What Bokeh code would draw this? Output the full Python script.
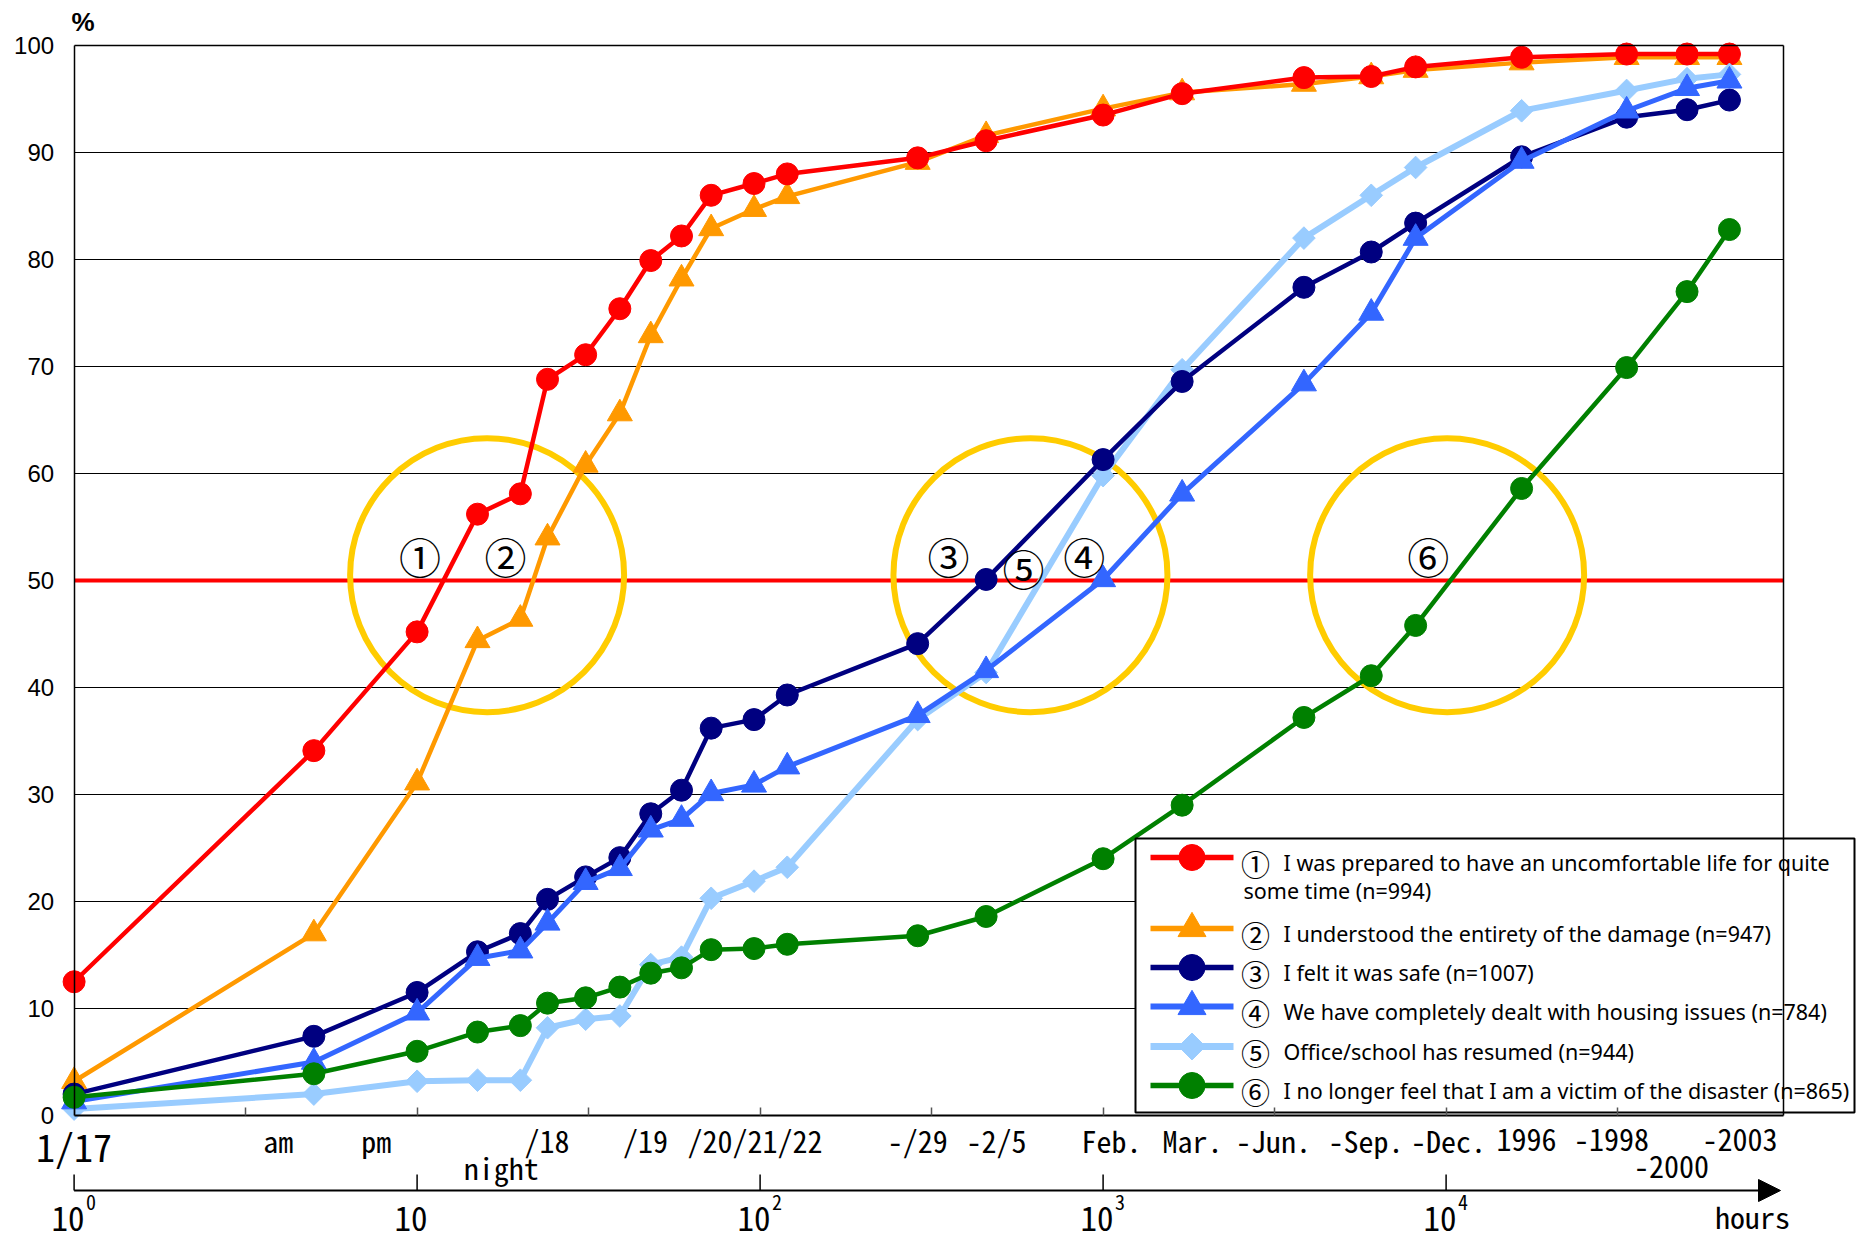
import numpy as np
from bokeh.plotting import figure
from bokeh.models import (Range1d, LinearAxis, LogAxis, FixedTicker, Grid, Label, Arrow,
                          NormalHead, ColumnDataSource, CustomJSTickFormatter)
from bokeh.embed import file_html
from bokeh.resources import INLINE
from bokeh.core.properties import value

# ---------------- data ----------------
hours = [1, 5, 10, 15, 20, 24, 31, 39, 48, 59, 72, 96, 120, 288, 456,
         1000, 1700, 3850, 6050, 8150, 16600, 33600, 50400, 67000]

s1 = [12.5, 34.1, 45.2, 56.2, 58.1, 68.8, 71.1, 75.4, 79.9, 82.2, 86.0, 87.1, 88.0, 89.5, 91.1,
      93.5, 95.5, 97.0, 97.1, 98.0, 98.9, 99.2, 99.2, 99.2]
s2 = [3.2, 17.0, 31.1, 44.4, 46.4, 54.0, 60.8, 65.6, 72.9, 78.2, 82.9, 84.7, 85.9, 89.1, 91.6,
      94.1, 95.6, 96.4, 97.1, 97.7, 98.4, 98.9, 98.9, 98.9]
s3 = [2.0, 7.4, 11.5, 15.3, 17.0, 20.2, 22.3, 24.1, 28.2, 30.4, 36.2, 37.0, 39.3, 44.1, 50.1,
      61.3, 68.6, 77.4, 80.7, 83.4, 89.6, 93.3, 94.0, 94.9]
s4 = [1.3, 5.0, 9.6, 14.7, 15.4, 18.0, 21.8, 23.1, 26.7, 27.7, 30.1, 30.9, 32.6, 37.4, 41.6,
      50.1, 58.1, 68.4, 75.0, 82.0, 89.2, 93.9, 96.0, 96.7]
s5 = [0.6, 2.0, 3.2, 3.3, 3.3, 8.2, 9.0, 9.3, 14.1, 14.8, 20.3, 21.9, 23.2, 37.0, 41.4,
      59.8, 69.7, 82.0, 86.0, 88.6, 93.9, 95.8, 96.9, 97.3]
s6 = [1.7, 3.9, 6.0, 7.8, 8.4, 10.5, 11.0, 12.0, 13.3, 13.8, 15.5, 15.6, 16.0, 16.8, 18.6,
      24.0, 29.0, 37.2, 41.1, 45.8, 58.6, 69.9, 77.0, 82.8]

series_numbers = ["①", "②", "③", "④", "⑤", "⑥"]
series_labels = [
    ["I was prepared to have an uncomfortable life for quite", "some time (n=994)"],
    ["I understood the entirety of the damage (n=947)"],
    ["I felt it was safe (n=1007)"],
    ["We have completely dealt with housing issues (n=784)"],
    ["Office/school has resumed (n=944)"],
    ["I no longer feel that I am a victim of the disaster (n=865)"],
]

y_ticks = [0, 10, 20, 30, 40, 50, 60, 70, 80, 90, 100]
threshold = 50

date_labels = ["1/17", "am", "pm", "/18", "/19", "/20/21/22", "-/29", "-2/5", "Feb.", "Mar.",
               "-Jun.", "-Sep.", "-Dec.", "1996", "-1998", "-2003"]
date_label_hours = [1, 3.94, 7.6, 23.9, 46.3, 96.6, 288, 489, 1058, 1823,
                    3140, 5840, 10160, 17150, 30350, 71900]
lower_labels = ["night", "-2000"]
lower_label_hours = [17.6, 45400]

decades = [1, 10, 100, 1000, 10000]
decade_exps = ["0", "", "2", "3", "4"]

ring_hours = [16.0, 614, 10070]
ring_pct = [50.5, 50.5, 50.5]
mark_text = ["①", "②", "③", "⑤", "④", "⑥"]
mark_hours = [10.2, 18.1, 354, 586, 881, 8870]
mark_pct = [52.3, 52.3, 52.3, 51.2, 52.3, 52.3]

# ---------------- layout (page pixels) ----------------
W, H = 1858, 1240
PX0, PY0 = 73.6, 1115.0      # pixel position of (1 h, 0 %)
PPD = 343.0                  # pixels per decade of hours
PPU = 10.7                   # pixels per percentage point
CHART_RIGHT = 1782.7
LBL_SHIFT = 14               # baseline correction for Label text


def xd(px):
    return 10 ** ((px - PX0) / PPD)


def yd(py):
    return (PY0 - py) / PPU


x_start = hours[0]
x_end = xd(CHART_RIGHT)

p = figure(width=W, height=H, x_axis_type="log",
           x_range=Range1d(xd(0), xd(W)), y_range=Range1d(yd(H), yd(0)),
           x_axis_location=None, y_axis_location=None,
           output_backend="svg", toolbar_location=None,
           min_border_left=0, min_border_right=0, min_border_top=0, min_border_bottom=0)
p.outline_line_color = None
p.grid.visible = False
p.background_fill_color = "white"
p.border_fill_color = "white"

blank = CustomJSTickFormatter(code="return ''")

# left y axis at x = 1 h
yaxis = LinearAxis(fixed_location=x_start, bounds=(0, 100), ticker=FixedTicker(ticks=y_ticks),
                   major_tick_in=0, major_tick_out=0, minor_tick_in=0, minor_tick_out=0,
                   major_label_standoff=20, major_label_text_font="Liberation Sans",
                   major_label_text_font_size="24px", major_label_text_color="black",
                   axis_line_color="black", axis_line_width=1.5)
p.add_layout(yaxis, "left")

# bottom x axis with half-decade inward ticks
half_decades = [10 ** (k / 2) for k in range(10)]
xaxis = LogAxis(fixed_location=0, bounds=(x_start, x_end), ticker=FixedTicker(ticks=half_decades),
                formatter=blank, major_tick_in=8, major_tick_out=0,
                minor_tick_in=0, minor_tick_out=0,
                major_tick_line_color="#555555", major_tick_line_width=1.5,
                axis_line_color="black", axis_line_width=2)
p.add_layout(xaxis, "below")

# top and right frame lines
top_axis = LogAxis(fixed_location=100, bounds=(x_start, x_end), ticker=FixedTicker(ticks=[]),
                   formatter=blank, major_tick_in=0, major_tick_out=0, minor_tick_in=0,
                   minor_tick_out=0, axis_line_color="black", axis_line_width=1.5)
p.add_layout(top_axis, "above")
right_axis = LinearAxis(fixed_location=x_end, bounds=(0, 100), ticker=FixedTicker(ticks=[]),
                        formatter=blank, major_tick_in=0, major_tick_out=0, minor_tick_in=0,
                        minor_tick_out=0, axis_line_color="black", axis_line_width=1.5)
p.add_layout(right_axis, "right")

# horizontal grid lines
gy = y_ticks[1:-1]
if "cross_bounds" in Grid.properties():
    g = Grid(dimension=1, ticker=FixedTicker(ticks=gy), grid_line_color="black",
             grid_line_width=1, cross_bounds=(x_start, x_end))
    p.add_layout(g)
else:
    p.segment(x0=[x_start] * len(gy), y0=gy, x1=[x_end] * len(gy), y1=gy,
              line_color="black", line_width=1)

# 50% line
p.segment(x0=[x_start], y0=[threshold], x1=[x_end], y1=[threshold], line_color="#FF0000", line_width=4)

# highlight rings
p.scatter(ring_hours, ring_pct, marker="circle", size=274, fill_color=None,
          line_color="#FFCC00", line_width=6)

# series
styles = [
    dict(y=s1, color="#FF0000", marker="circle", size=22, angle=0, lw=4.5, lsize=26),
    dict(y=s2, color="#FF9900", marker="triangle", size=25, angle=0, lw=4.5, lsize=28),
    dict(y=s3, color="#000080", marker="circle", size=22, angle=0, lw=4.5, lsize=26),
    dict(y=s4, color="#3366FF", marker="triangle", size=25, angle=0, lw=5, lsize=28),
    dict(y=s5, color="#99CCFF", marker="square", size=16, angle=np.pi / 4, lw=6, lsize=19),
    dict(y=s6, color="#008000", marker="circle", size=22, angle=0, lw=4.5, lsize=26),
]
draw_order = [1, 0, 4, 2, 3, 5]
for i in draw_order:
    st = styles[i]
    src = ColumnDataSource(dict(x=hours, y=st["y"]))
    p.line("x", "y", source=src, line_color=st["color"], line_width=st["lw"])
    p.scatter("x", "y", source=src, marker=st["marker"], size=st["size"], angle=st["angle"],
              fill_color=st["color"], line_color=st["color"])

# circled numbers
p.text(mark_hours, mark_pct, text=mark_text, text_font=value("Noto Sans CJK JP"),
       text_font_size="42px", text_align="center", text_baseline="middle", text_color="black")

# ---------------- legend (drawn by hand, in chart scales) ----------------
LEG_L, LEG_T, LEG_R, LEG_B = 1135, 838, 1854, 1112
row_py = [857, 928, 967, 1006, 1046, 1085]
p.quad(left=[xd(LEG_L)], right=[xd(LEG_R)], top=[yd(LEG_T)], bottom=[yd(LEG_B)],
       fill_color="white", line_color="black", line_width=2)
leg_font = value("Noto Sans")
for i, st in enumerate(styles):
    ry = row_py[i]
    p.segment(x0=[xd(1150)], y0=[yd(ry)], x1=[xd(1233)], y1=[yd(ry)],
              line_color=st["color"], line_width=st["lw"] + 1)
    p.scatter([xd(1191.5)], [yd(ry)], marker=st["marker"], size=st["lsize"], angle=st["angle"],
              fill_color=st["color"], line_color=st["color"])
    p.text([xd(1255)], [yd(ry + 5)], text=[series_numbers[i]], text_font=value("Noto Sans CJK JP"),
           text_font_size="29px", text_align="center", text_baseline="middle", text_color="black")
    for k, line in enumerate(series_labels[i]):
        lx = 1283 if k == 0 else 1243
        p.text([xd(lx)], [yd(ry + 5 + 28 * k)], text=[line], text_font=leg_font,
               text_font_size="21.5px", text_align="left", text_baseline="middle",
               text_color="black")

# ---------------- bottom date labels ----------------
mono = "Noto Sans Mono CJK JP, Noto Sans CJK JP"
for t, h in zip(date_labels, date_label_hours):
    big = (t == date_labels[0])
    p.add_layout(Label(x=h, y=0, text=t, x_offset=0,
                       y_offset=(-44 if big else -38) + LBL_SHIFT,
                       text_font=mono, text_font_size="38px" if big else "30px",
                       text_align="center", text_baseline="alphabetic", text_color="black"))
for t, h in zip(lower_labels, lower_label_hours):
    p.add_layout(Label(x=h, y=0, text=t, y_offset=-65 + LBL_SHIFT, text_font=mono,
                       text_font_size="30px", text_align="center", text_baseline="alphabetic",
                       text_color="black"))

# ---------------- hours axis (arrow) ----------------
y_arrow = yd(1190)
p.add_layout(Arrow(x_start=x_start, y_start=y_arrow, x_end=xd(1780), y_end=y_arrow,
                   line_color="black", line_width=2,
                   end=NormalHead(size=22, fill_color="black", line_color="black")))
tick_src = ColumnDataSource(dict(x=decades, y0=[y_arrow] * len(decades),
                                 y1=[yd(1174)] * len(decades)))
p.add_layout(Arrow(x_start="x", y_start="y0", x_end="x", y_end="y1", source=tick_src,
                   end=None, line_color="black", line_width=1.5))
DEC_UP = 4
for d, e in zip(decades, decade_exps):
    p.add_layout(Label(x=d, y=0, text="10", x_offset=-6, y_offset=-121 + LBL_SHIFT + DEC_UP,
                       text_font=mono, text_font_size="33px", text_align="center",
                       text_baseline="alphabetic", text_color="black"))
    if e:
        p.add_layout(Label(x=d, y=0, text=e, x_offset=12, y_offset=-105 + LBL_SHIFT + DEC_UP,
                           text_font=mono, text_font_size="20px", text_align="left",
                           text_baseline="alphabetic", text_color="black"))
p.add_layout(Label(x=xd(1752), y=0, text="hours", y_offset=-122 + LBL_SHIFT + DEC_UP + 4,
                   text_font=mono, text_font_size="30px", text_align="center",
                   text_baseline="alphabetic", text_color="black"))

# % unit label
p.add_layout(Label(x=x_start, y=100, text="%", x_offset=9, y_offset=24, text_font="Liberation Sans",
                   text_font_size="26px", text_font_style="bold", text_align="center",
                   text_baseline="middle", text_color="black"))

open("out.html", "w", encoding="utf-8").write(file_html(p, INLINE))
